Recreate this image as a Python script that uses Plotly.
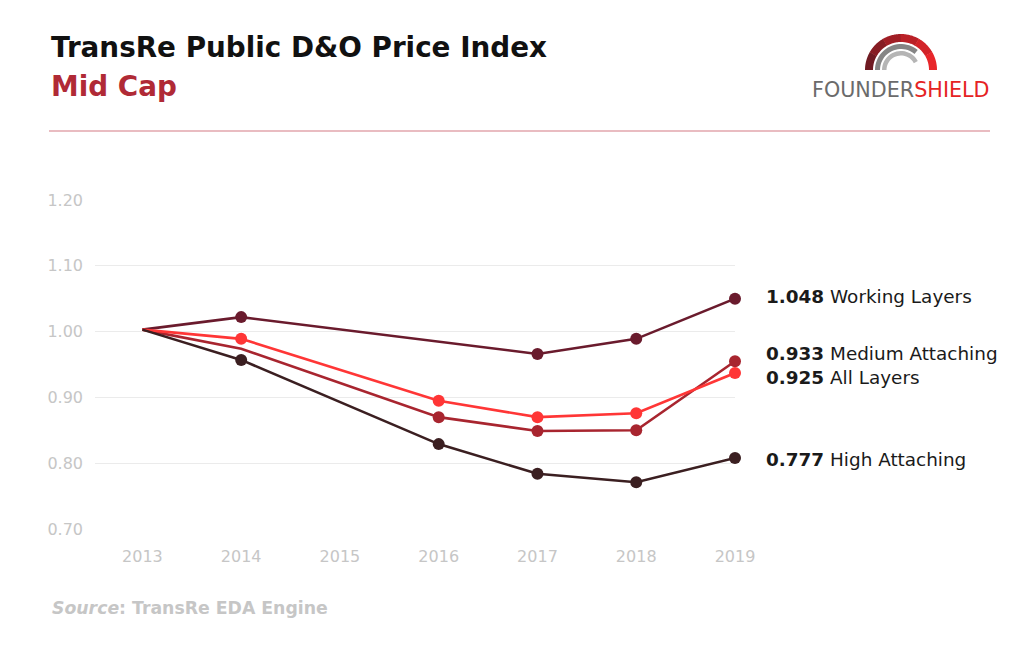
import math
import plotly.graph_objects as go

years = ["2013", "2014", "2015", "2016", "2017", "2018", "2019"]
working = [1.003, 1.022, None, None, 0.966, 0.989, 1.050]
medium = [1.003, 0.974, None, 0.870, 0.849, 0.850, 0.955]
all_layers = [1.003, 0.989, None, 0.895, 0.870, 0.876, 0.937]
high = [1.003, 0.957, None, 0.829, 0.784, 0.771, 0.808]

label_values = ["1.048", "0.933", "0.925", "0.777"]
label_names = ["Working Layers", "Medium Attaching", "All Layers", "High Attaching"]
y_ticks = [0.70, 0.80, 0.90, 1.00, 1.10, 1.20]

W, H = 1024, 655
L, R, T, B = 95, 735, 200, 529  # plot area in px

FONT = "DejaVu Sans, sans-serif"


def px(x):
    return (x - L) / (R - L)


def py(y):
    return (B - y) / (B - T)


colors = {
    "working": "#6a1b2d",
    "medium": "#a8252f",
    "all": "#ff3636",
    "high": "#3b1f21",
}

fig = go.Figure()
series = [
    ("Working Layers", working, colors["working"], [0, 12, 0, 0, 12, 12, 12]),
    ("Medium Attaching", medium, colors["medium"], [0, 0, 0, 12, 12, 12, 12]),
    ("All Layers", all_layers, colors["all"], [0, 12, 0, 12, 12, 12, 12]),
    ("High Attaching", high, colors["high"], [0, 12, 0, 12, 12, 12, 12]),
]
for name, vals, col, sizes in series:
    fig.add_trace(go.Scatter(
        x=years, y=vals, name=name, mode="lines+markers",
        connectgaps=True, cliponaxis=False,
        line=dict(color=col, width=2.6),
        marker=dict(color=col, size=sizes, opacity=1, line=dict(width=0)),
        showlegend=False,
    ))

fig.update_layout(
    width=W, height=H,
    margin=dict(l=L, r=W - R, t=T, b=H - B),
    paper_bgcolor="white", plot_bgcolor="white",
    font=dict(family=FONT),
)
fig.update_xaxes(
    type="category", categoryorder="array", categoryarray=years,
    range=[-0.48, 6.0], showgrid=False, zeroline=False, showline=False,
    ticks="", ticklabelstandoff=16,
    tickfont=dict(size=16, color="#c6c6c6", family=FONT),
)
fig.update_yaxes(
    range=[0.70, 1.20], tickvals=y_ticks, tickformat=".2f",
    showgrid=True, gridcolor="#ebebeb", gridwidth=1, zeroline=False, showline=False,
    ticks="", ticklabelstandoff=11,
    tickfont=dict(size=16, color="#c6c6c6", family=FONT),
)

anns = []
# Title
anns.append(dict(x=px(49), y=py(48), xref="paper", yref="paper", xanchor="left", yanchor="middle",
                 text="<b>TransRe Public D&amp;O Price Index</b>", showarrow=False,
                 font=dict(size=27.8, color="#111111", family=FONT)))
anns.append(dict(x=px(49), y=py(86), xref="paper", yref="paper", xanchor="left", yanchor="middle",
                 text="<b>Mid Cap</b>", showarrow=False,
                 font=dict(size=27.8, color="#b02a36", family=FONT)))
# End labels
label_y = [296, 353, 377, 459]
for v, n, yy in zip(label_values, label_names, label_y):
    anns.append(dict(x=px(764), y=py(yy), xref="paper", yref="paper", xanchor="left", yanchor="middle",
                     text=f"<b>{v}</b> {n}", showarrow=False,
                     font=dict(size=18.4, color="#1a1a1a", family=FONT)))
# Source
anns.append(dict(x=px(50), y=py(608), xref="paper", yref="paper", xanchor="left", yanchor="middle",
                 text="<b><i>Source</i>: TransRe EDA Engine</b>", showarrow=False,
                 font=dict(size=17.3, color="#c6c6c6", family=FONT)))
# Logo text
anns.append(dict(x=px(810), y=py(90), xref="paper", yref="paper", xanchor="left", yanchor="middle",
                 text="<span style='color:#6b6b6b'>FOUNDER</span><span style='color:#e52323'>SHIELD</span>",
                 showarrow=False, font=dict(size=20.7, family=FONT)))
fig.update_layout(annotations=anns)

shapes = []
# separator line
shapes.append(dict(type="line", xref="paper", yref="paper", x0=px(49), x1=px(990), y0=py(131), y1=py(131),
                   line=dict(color="#e2a6ac", width=1.5)))


def arc_path(cx, cy, r_out, r_in, a0, a1, n=24):
    pts = []
    for i in range(n + 1):
        a = a0 + (a1 - a0) * i / n
        pts.append((cx + r_out * math.cos(a), cy - r_out * math.sin(a)))
    for i in range(n, -1, -1):
        a = a0 + (a1 - a0) * i / n
        pts.append((cx + r_in * math.cos(a), cy - r_in * math.sin(a)))
    d = "M " + " L ".join(f"{px(x):.5f},{py(y):.5f}" for x, y in pts) + " Z"
    return d


cx, cy = 901, 70
# red outer arc with gradient (left dark -> right bright)
grad = ["#6f1a22", "#861c23", "#a01e25", "#ba2127", "#d22328", "#e8262a"]
nseg = len(grad)
for i, c in enumerate(grad):
    a0 = math.pi - math.pi * i / nseg + (0.01 if i > 0 else 0)
    a1 = math.pi - math.pi * (i + 1) / nseg
    shapes.append(dict(type="path", xref="paper", yref="paper", path=arc_path(cx, cy, 36, 28, a0, a1),
                       fillcolor=c, line=dict(width=0)))
# gray inner arcs
shapes.append(dict(type="path", xref="paper", yref="paper",
                   path=arc_path(cx, cy, 26, 21, math.pi, math.radians(50)),
                   fillcolor="#858585", line=dict(width=0)))
shapes.append(dict(type="path", xref="paper", yref="paper",
                   path=arc_path(cx, cy, 19, 14.5, math.pi, math.radians(28)),
                   fillcolor="#b5b5b5", line=dict(width=0)))
fig.update_layout(shapes=shapes)

fig.write_html("out.html")
